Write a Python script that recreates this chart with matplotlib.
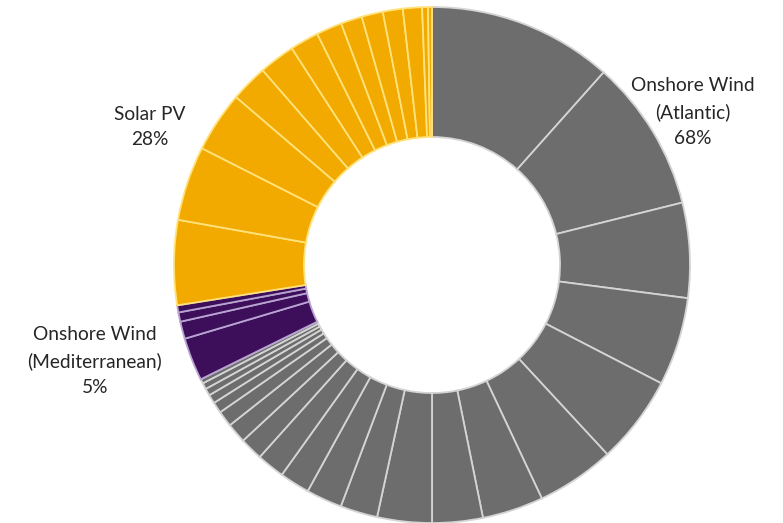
import matplotlib.pyplot as plt

# slice shares (degrees of the ring), clockwise from 12 o'clock
atlantic = [41.7, 34.3, 21.4, 19.9, 19.9, 17.6, 13.8, 11.4, 12.3, 8.4, 8.1,
            6.8, 6.3, 5.2, 4.5, 3.6, 2.5, 2.0, 1.6, 1.4, 1.0]
mediterranean = [9.7, 3.9, 2.1, 1.6]
solar = [19.1, 16.8, 13.7, 8.4, 8.1, 6.5, 5.8, 4.8, 4.8, 4.5, 4.3, 1.3, 0.9]

groups = ["Onshore Wind\n(Atlantic)\n68%",
          "Onshore Wind\n(Mediterranean)\n5%",
          "Solar PV\n28%"]
fills = ["#6d6d6d", "#3d0f5a", "#f2a900"]
edges = ["#d4d4d4", "#b9a3d3", "#ffe27a"]

plt.rcParams['font.family'] = ['Lato', 'DejaVu Sans']
fig = plt.figure(figsize=(7.83, 5.23), dpi=100)
ax = fig.add_axes([0, 0, 1, 1])

vals, cols, ecols = [], [], []
for data, fc, ec in zip([atlantic, mediterranean, solar], fills, edges):
    vals += data
    cols += [fc] * len(data)
    ecols += [ec] * len(data)

wedges, _ = ax.pie(vals, colors=cols, startangle=90, counterclock=False,
                   center=(432, 258), radius=258,
                   wedgeprops=dict(width=130, linewidth=1.3))
for w, ec in zip(wedges, ecols):
    w.set_edgecolor(ec)

ax.set_xlim(0, 783)
ax.set_ylim(0, 523)
ax.set_aspect('equal')
ax.axis('off')

txt = dict(ha='center', va='center', fontsize=13.8, color='#262626',
           linespacing=1.6)
ax.text(693, 411, groups[0], **txt)
ax.text(95, 162, groups[1], **txt)
ax.text(150, 396, groups[2], **txt)

fig.savefig("out.png", dpi=100)
